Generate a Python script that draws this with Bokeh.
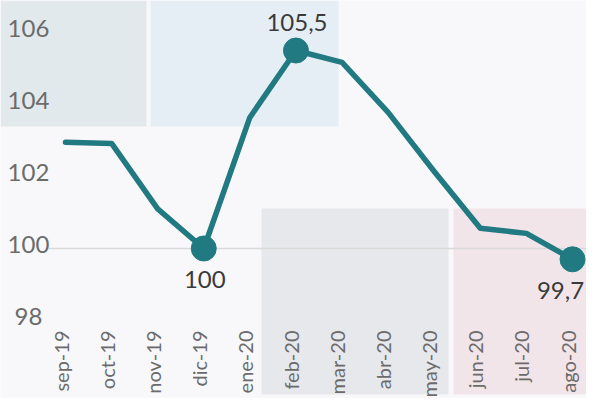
import math
from bokeh.plotting import figure
from bokeh.models import ColumnDataSource, BoxAnnotation, Range1d
from bokeh.core.properties import value
from bokeh.embed import file_html
from bokeh.resources import INLINE

# ---- data ----
months = ["sep-19", "oct-19", "nov-19", "dic-19", "ene-20", "feb-20",
          "mar-20", "abr-20", "may-20", "jun-20", "jul-20", "ago-20"]
index_values = [102.95, 102.92, 101.1, 100.0, 103.64, 105.5,
                105.17, 103.78, 102.14, 100.56, 100.42, 99.7]
labeled_months = ["dic-19", "feb-20", "ago-20"]
label_below = ["dic-19", "ago-20"]
y_ticks = [98, 100, 102, 104, 106]
y_tick_labels = ["98", "100", "102", "104", "106"]

# decorative background panels (canvas pixels: left, right, top, bottom, colour)
panels = [
    (0, 146, 0, 126, "#e2e9ec"),
    (150, 338, 0, 126, "#e4eef4"),
    (261, 448, 208, 394, "#e7e8eb"),
    (453, 602, 208, 394, "#f2e5e9"),
    (261, 448, 401, 414, "#e2e9ec"),
    (453, 602, 401, 414, "#e4eef4"),
]

BG = "#f8f8fb"
TEAL = "#217a81"
FONT = "Lato"

xs = list(range(len(months)))

W, H = 586, 398
# pixel scales of the frame (frame covers the whole canvas)
px_y = 36.0
y_top = 100 + 248 / px_y
y_bot = y_top - H / px_y
first_px, last_px = 65, 572
px_x = (last_px - first_px) / (len(months) - 1)
x_start = -first_px / px_x
x_end = x_start + W / px_x

p = figure(width=W, height=H, output_backend="svg", toolbar_location=None,
           x_range=Range1d(x_start, x_end), y_range=Range1d(y_bot, y_top),
           min_border=0)
p.background_fill_color = BG
p.border_fill_color = BG
p.outline_line_color = None
p.xgrid.visible = False
p.ygrid.visible = False
p.axis.visible = False

for (l, r, t, b, c) in panels:
    p.add_layout(BoxAnnotation(left=l, right=r, top=t, bottom=b,
                               left_units="canvas", right_units="canvas",
                               top_units="canvas", bottom_units="canvas",
                               fill_color=c, fill_alpha=1.0, line_color=None,
                               level="underlay"))

# reference line at 100
grid_x0 = x_start + 48 / px_x
p.segment(x0=[grid_x0], y0=[100], x1=[x_end], y1=[100],
          line_color="#d9d9d9", line_width=1.5)

src = ColumnDataSource(dict(x=xs, y=index_values))
p.line("x", "y", source=src, line_color=TEAL, line_width=5.5,
       line_join="round", line_cap="round")

mx = [xs[months.index(m)] for m in labeled_months]
my = [index_values[months.index(m)] for m in labeled_months]
p.scatter(mx, my, size=25, fill_color=TEAL, line_color=TEAL)


def fmt(v):
    s = ("%.1f" % v)
    if s.endswith(".0"):
        s = s[:-2]
    return s.replace(".", ",")


for m in labeled_months:
    i = months.index(m)
    below = m in label_below
    # keep the last label inside the canvas
    xo = -12 if i == len(months) - 1 else 1
    p.text([xs[i]], [index_values[i]], text=[fmt(index_values[i])],
           y_offset=31 if below else -28, x_offset=xo,
           text_align="center", text_baseline="middle",
           text_font=value(FONT), text_font_size="24px",
           text_color="#3a3a3a")

# y tick labels (drawn through the data scale)
ylab_x = x_start + 28 / px_x
p.text([ylab_x] * len(y_ticks), y_ticks, text=y_tick_labels, y_offset=-4,
       text_align="center", text_baseline="middle", text_font=value(FONT),
       text_font_size="24px", text_color="#6b6b6b")

# x tick labels, vertical, ending just below the plotting band
xlab_y = y_top - 330 / px_y
p.text(xs, [xlab_y] * len(xs), text=months, angle=math.pi / 2, x_offset=-5,
       text_align="right", text_baseline="middle", text_font=value(FONT),
       text_font_size="20px", text_color="#6b6b6b")

open("out.html", "w").write(file_html(p, INLINE))
